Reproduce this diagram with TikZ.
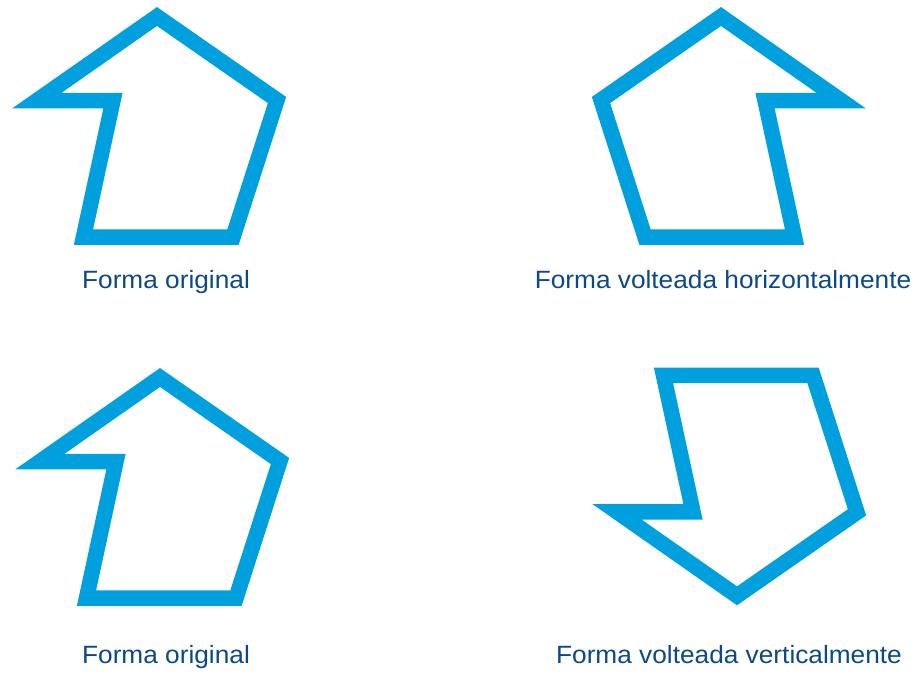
\documentclass[tikz,border=0pt]{standalone}
\usepackage{fontspec}
\usepackage{graphicx}
\setmainfont{Liberation Sans}
\definecolor{shapeblue}{RGB}{0,160,222}
\definecolor{textblue}{RGB}{12,74,134}
\tikzset{
  outline/.style={draw=shapeblue, line width=15.5pt, line join=miter, miter limit=10},
  caption/.style={text=textblue, anchor=base, inner sep=0pt, font=\fontsize{25}{29}\selectfont}
}
\newcommand{\houseshape}{%
  \draw[outline] (157,16.5) -- (277,100) -- (233,237) -- (83.5,237) -- (113,100.5) -- (37,100.5) -- cycle;}
\begin{document}
\begin{tikzpicture}[x=1pt,y=-1pt]
\useasboundingbox (0,0) rectangle (924,675);
\begin{scope}
  \houseshape
\end{scope}
\begin{scope}[xshift=878pt, xscale=-1]
  \houseshape
\end{scope}
\begin{scope}[shift={(3,361)}]
  \houseshape
\end{scope}
\begin{scope}[shift={(580,612.3)}, yscale=-1]
  \houseshape
\end{scope}
\node[caption] (t1) at (166,288.5) {\scalebox{1.05}[1]{Forma original}};
\node[caption] (t2) at (723,288.5) {\scalebox{1.05}[1]{Forma volteada horizontalmente}};
\node[caption] (t3) at (166,663.3) {\scalebox{1.05}[1]{Forma original}};
\node[caption] (t4) at (729,663.3) {\scalebox{1.05}[1]{Forma volteada verticalmente}};
\end{tikzpicture}
\end{document}
